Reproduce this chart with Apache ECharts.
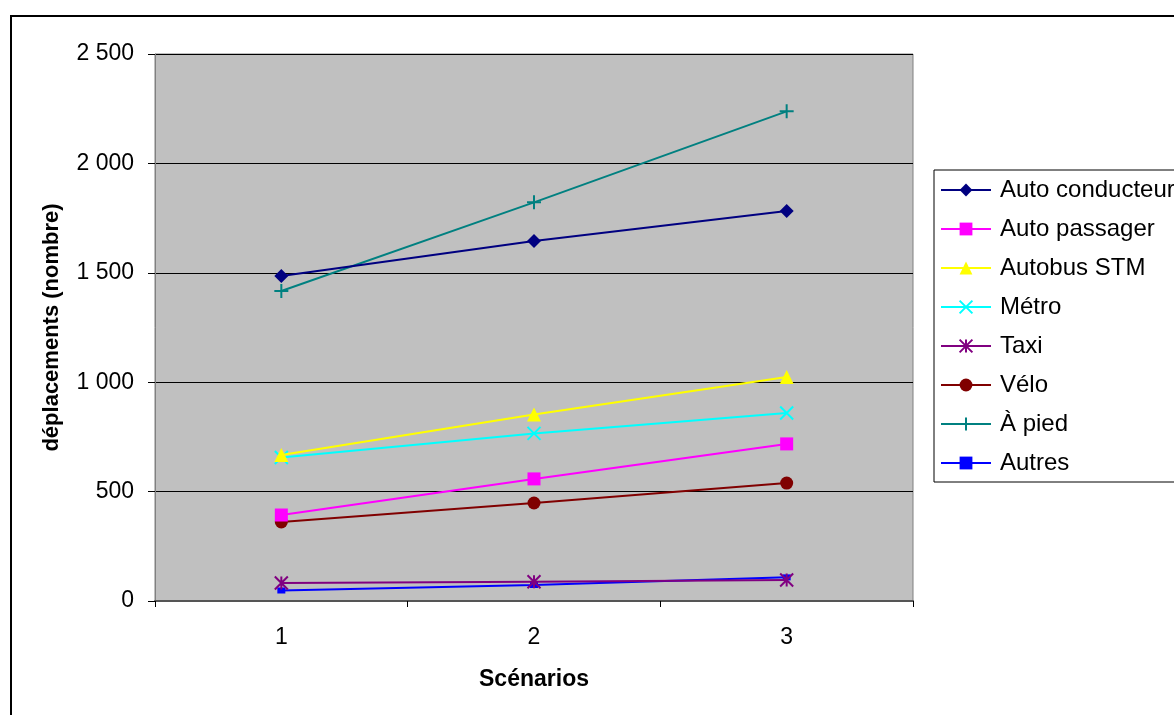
<!DOCTYPE html>
<html><head><meta charset="utf-8">
<script src="https://cdn.jsdelivr.net/npm/echarts@6/dist/echarts.min.js"></script>
<style>
html,body{margin:0;padding:0;background:#fff;overflow:hidden;}
#frame{position:absolute;left:10px;top:15px;width:1300px;height:800px;border:2px solid #000;box-sizing:border-box;}
#c{position:absolute;left:0;top:0;width:1174px;height:715px;}
</style></head><body>
<div id="frame"></div>
<div id="c"></div>
<script>
const categories = ['1', '2', '3'];
const yTicks = [0, 500, 1000, 1500, 2000, 2500];
const seriesNames = ['Auto conducteur', 'Auto passager', 'Autobus STM', 'Métro', 'Taxi', 'Vélo', 'À pied', 'Autres'];
const autoConducteur = [1485, 1645, 1782];
const autoPassager = [393, 558, 718];
const autobusSTM = [667, 852, 1024];
const metro = [656, 766, 859];
const taxi = [82, 88, 96];
const velo = [361, 448, 539];
const aPied = [1417, 1822, 2238];
const autres = [48, 73, 108];

const dataList = [autoConducteur, autoPassager, autobusSTM, metro, taxi, velo, aPied, autres];
const colors = ['#000080', '#FF00FF', '#FFFF00', '#00FFFF', '#800080', '#800000', '#008080', '#0000FF'];
const symbols = [
  'diamond', 'rect', 'triangle',
  'path://M0,0L10,10M10,0L0,10',
  'path://M0,0L10,10M10,0L0,10M5,0L5,10',
  'circle',
  'path://M5,0L5,10M0,5L10,5',
  'rect'
];
const sizes = [14, 13, 14, 13, 13, 13, 14, [8, 6]];
const stroked = [false, false, false, true, true, false, true, false];

const chart = echarts.init(document.getElementById('c'));
const series = seriesNames.map((n, i) => ({
  name: n,
  type: 'line',
  data: dataList[i],
  symbol: symbols[i],
  symbolSize: sizes[i],
  showAllSymbol: true,
  lineStyle: { color: colors[i], width: 2 },
  itemStyle: stroked[i] ? { color: colors[i], borderColor: colors[i], borderWidth: 2 } : { color: colors[i], borderWidth: 0 },
  emphasis: { disabled: true },
  animation: false,
  z: 10 - i
}));

chart.setOption({
  animation: false,
  textStyle: { fontFamily: 'Liberation Sans, Arial, sans-serif' },
  grid: { left: 155, top: 54, right: 261, bottom: 114, show: true, backgroundColor: '#C0C0C0', borderColor: '#808080', borderWidth: 1 },
  legend: {
    orient: 'vertical', left: 934, top: 170,
    backgroundColor: '#fff', borderColor: '#000', borderWidth: 1,
    padding: [8, 8, 7, 6],
    itemWidth: 50, itemHeight: 16, itemGap: 15,
    textStyle: { fontSize: 24, color: '#000', fontFamily: 'Liberation Sans, Arial, sans-serif', padding: [0, 0, 0, 4] },
    data: seriesNames
  },
  xAxis: {
    type: 'category', data: categories, boundaryGap: true,
    name: 'Scénarios', nameLocation: 'middle', nameGap: 67,
    nameTextStyle: { fontSize: 23, fontWeight: 'bold', color: '#000' },
    axisLine: { show: true, lineStyle: { color: '#555', width: 2 } },
    axisTick: { show: true, length: 6, lineStyle: { color: '#000' } },
    axisLabel: { fontSize: 23, color: '#000', margin: 25 },
    splitLine: { show: false }
  },
  yAxis: {
    type: 'value', min: 0, max: 2500, interval: 500,
    name: 'déplacements (nombre)', nameLocation: 'middle', nameGap: 92,
    nameTextStyle: { fontSize: 22, fontWeight: 'bold', color: '#000' },
    axisLine: { show: true, lineStyle: { color: '#808080', width: 1 } },
    axisTick: { show: true, length: 7, lineStyle: { color: '#000' } },
    axisLabel: { fontSize: 23, color: '#000', margin: 21, formatter: v => String(v).replace(/\B(?=(\d{3})+(?!\d))/g, ' ') },
    splitLine: { show: true, lineStyle: { color: '#000', width: 1 } }
  },
  series: series
});
</script>
</body></html>
